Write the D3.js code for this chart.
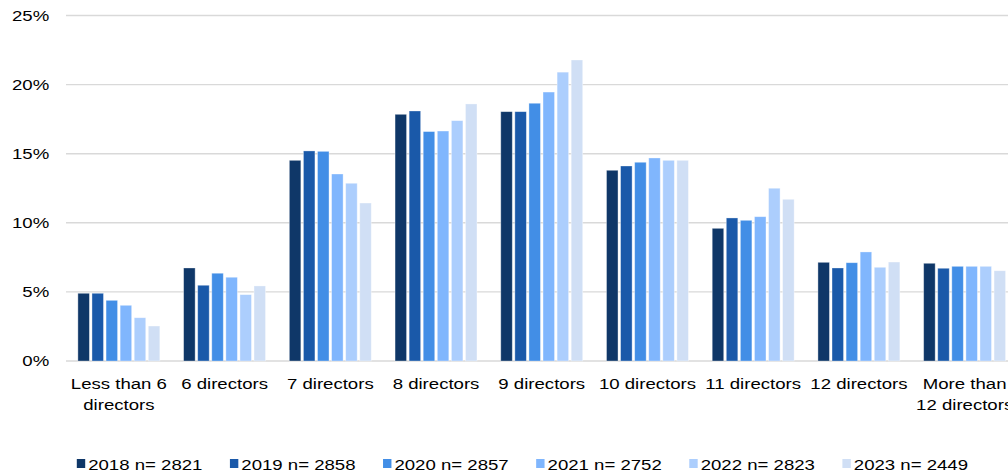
<!DOCTYPE html>
<html>
<head>
<meta charset="utf-8">
<script src="https://cdn.jsdelivr.net/npm/d3@7"></script>
<style>
  body { margin: 0; background: #fff; }
  svg { display: block; }
  text { font-family: "Liberation Sans", Arial, sans-serif; fill: #000; }
</style>
</head>
<body>
<div id="chart"></div>
<script>
const categories = ["Less than 6|directors", "6 directors", "7 directors", "8 directors", "9 directors",
    "10 directors", "11 directors", "12 directors", "More than|12 directors"];
const years = ["2018", "2019", "2020", "2021", "2022", "2023"];
const legendLabels = ["2018 n= 2821", "2019 n= 2858", "2020 n= 2857", "2021 n= 2752", "2022 n= 2823", "2023 n= 2449"];
const v2018 = [4.9, 6.73, 14.52, 17.85, 18.04, 13.8, 9.6, 7.14, 7.07];
const v2019 = [4.9, 5.48, 15.2, 18.09, 18.04, 14.11, 10.35, 6.73, 6.71];
const v2020 = [4.39, 6.35, 15.17, 16.6, 18.65, 14.38, 10.18, 7.11, 6.85];
const v2021 = [4.03, 6.06, 13.53, 16.64, 19.46, 14.69, 10.44, 7.89, 6.85];
const v2022 = [3.13, 4.8, 12.86, 17.39, 20.9, 14.52, 12.5, 6.78, 6.85];
const v2023 = [2.53, 5.43, 11.43, 18.6, 21.78, 14.52, 11.7, 7.16, 6.53];
const yTicks = [0, 5, 10, 15, 20, 25];

const series = [v2018, v2019, v2020, v2021, v2022, v2023];
const colors = ["#0f3768", "#1a59a9", "#428ee6", "#80b6fd", "#accefd", "#d0dff5"];

// the picture is stretched sideways, so draw narrower and stretch the svg
const stretch = 1.2;
const W = 1008, H = 473;
const iw = W / stretch;

const svg = d3.select("#chart")
    .append("svg")
    .attr("width", W)
    .attr("height", H)
    .attr("viewBox", `0 0 ${iw} ${H}`)
    .attr("preserveAspectRatio", "none");

const left = 55, step = 88.1;
const x0 = d3.scaleBand()
    .domain(categories)
    .range([left, left + step * categories.length]);
const x1 = d3.scaleBand()
    .domain(years)
    .range([9.9, 78.2])
    .paddingInner(0.18);
const y = d3.scaleLinear()
    .domain([0, 25])
    .range([361, 15.5]);

// gridlines
svg.append("g")
    .selectAll("line")
    .data(yTicks)
    .join("line")
    .attr("x1", left)
    .attr("x2", iw)
    .attr("y1", d => y(d))
    .attr("y2", d => y(d))
    .attr("stroke", "#d9d9d9")
    .attr("stroke-width", 1.4);

// y labels
svg.append("g")
    .selectAll("text")
    .data(yTicks)
    .join("text")
    .attr("x", 41)
    .attr("y", d => y(d))
    .attr("dy", "0.35em")
    .attr("text-anchor", "end")
    .style("font-size", "15.5px")
    .text(d => d + "%");

// bars
const groups = svg.append("g")
    .selectAll("g")
    .data(categories)
    .join("g")
    .attr("transform", d => `translate(${x0(d)},0)`);

groups.selectAll("rect")
    .data((d, i) => years.map((yr, j) => ({ yr, v: series[j][i], c: colors[j] })))
    .join("rect")
    .attr("x", d => x1(d.yr))
    .attr("width", x1.bandwidth())
    .attr("y", d => y(d.v))
    .attr("height", d => y(0) - y(d.v))
    .attr("fill", d => d.c)
    .attr("stroke", "#ffffff")
    .attr("stroke-opacity", 0.45)
    .attr("stroke-width", 0.7);

// category labels
const labels = svg.append("g")
    .selectAll("text")
    .data(categories)
    .join("text")
    .attr("text-anchor", "middle")
    .style("font-size", "15.5px")
    .attr("transform", d => `translate(${x0(d) + x0.bandwidth() / 2},389)`);

labels.selectAll("tspan")
    .data(d => d.split("|"))
    .join("tspan")
    .attr("x", 0)
    .attr("y", (d, i) => i * 21)
    .text(d => d);

// legend
const legend = svg.append("g")
    .selectAll("g")
    .data(legendLabels)
    .join("g")
    .attr("transform", (d, i) => `translate(${64 + i * 127.6},0)`);

legend.append("rect")
    .attr("x", 0)
    .attr("y", 459)
    .attr("width", 7)
    .attr("height", 9)
    .attr("fill", (d, i) => colors[i]);

legend.append("text")
    .attr("x", 9.5)
    .attr("y", 470)
    .style("font-size", "15.5px")
    .text(d => d);
</script>
</body>
</html>
